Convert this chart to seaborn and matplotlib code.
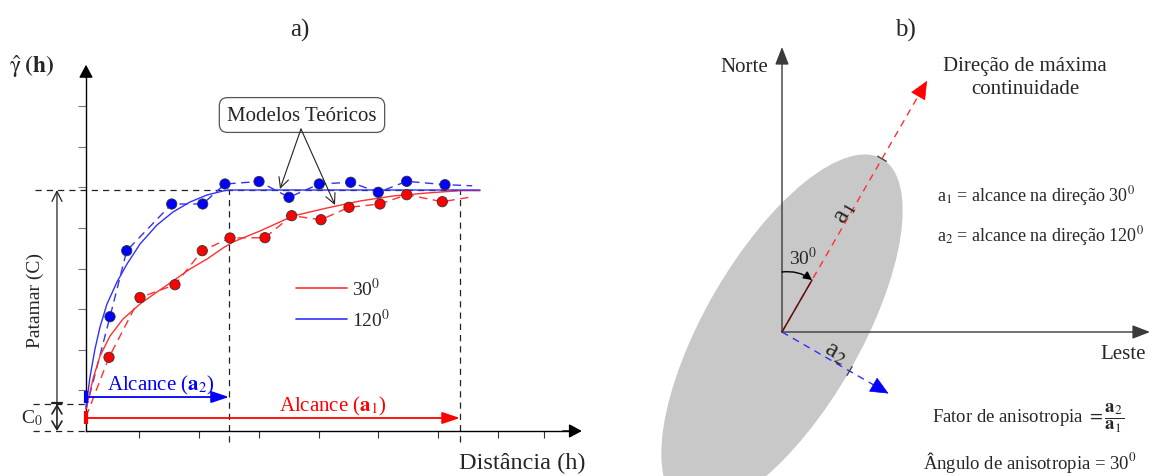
import matplotlib
matplotlib.use("Agg")
import numpy as np
import pandas as pd
import matplotlib.pyplot as plt
from matplotlib.patches import Ellipse, FancyArrowPatch
import seaborn as sns

sns.set_theme(style="white")
plt.rcParams["font.family"] = ["Liberation Serif", "DejaVu Serif"]
plt.rcParams["mathtext.fontset"] = "stix"

RED = "#ff0000"
BLUE = "#0000ff"
RED_MODEL = "#ff3030"
BLUE_MODEL = "#3030ff"

# ---------------- a) directional semivariograms ----------------
# experimental points (lag h, semivariance)
h_30 = [0.386, 0.906, 1.493, 1.951, 2.416, 3.003, 3.451, 3.943, 4.413, 4.933, 5.381, 5.978]
g_30 = [1.815, 3.288, 3.603, 4.441, 4.754, 4.761, 5.303, 5.204, 5.510, 5.591, 5.820, 5.648]
h_120 = [0.403, 0.683, 1.438, 1.958, 2.332, 2.903, 3.406, 3.914, 4.441, 4.904, 5.381, 6.023]
g_120 = [2.815, 4.441, 5.591, 5.591, 6.084, 6.145, 5.756, 6.084, 6.126, 5.879, 6.150, 6.067]

# dashed trace through the experimental points (start and tail included)
trace_h_30 = [0.0] + h_30 + [6.49]
trace_g_30 = [0.35] + g_30 + [5.77]
trace_h_120 = [0.0] + h_120 + [6.48]
trace_g_120 = [0.54] + g_120 + [6.04]

# fitted theoretical models
model_h_30 = [0.0, 0.117, 0.235, 0.403, 0.621, 0.906, 1.191, 1.460, 1.745, 2.030,
              2.299, 2.466, 2.919, 3.473, 4.044, 4.597, 5.151, 5.721, 6.275, 6.611]
model_g_30 = [0.542, 1.281, 1.847, 2.340, 2.759, 3.128, 3.424, 3.695, 3.990, 4.236,
              4.507, 4.655, 4.926, 5.296, 5.493, 5.665, 5.788, 5.862, 5.920, 5.920]
model_h_120 = [0.0, 0.067, 0.151, 0.235, 0.352, 0.520, 0.688, 0.906, 1.191, 1.460,
               1.745, 2.030, 2.299, 2.399, 6.611]
model_g_120 = [0.591, 1.330, 2.020, 2.562, 3.128, 3.670, 4.113, 4.606, 5.074, 5.394,
               5.640, 5.813, 5.911, 5.936, 5.936]

sill = 5.936
nugget = 0.665
range_30 = 6.275
range_120 = 2.399

x_ticks = [0.889, 1.896, 2.903, 3.909, 4.899, 5.906, 6.913, 7.685]
y_ticks = [1, 2, 3, 4, 5, 6, 7, 8]

# ---------------- b) anisotropy ellipse ----------------
azimuth_max = 30      # direction of maximum continuity, degrees from north
azimuth_min = 120
a1_len = 200
a2_len = 78

W, H = 1157, 477
fig = plt.figure(figsize=(W / 100, H / 100), dpi=100)

# ======================= panel a =======================
axL = fig.add_axes([0, 0, 600 / W, 1])
axL.set_xlim(-86 / 59.6, (600 - 86) / 59.6)
axL.set_ylim((432 - 477) / 40.6, 432 / 40.6)
axL.set_facecolor("none")
for s in ("top", "right"):
    axL.spines[s].set_visible(False)
for s in ("left", "bottom"):
    axL.spines[s].set_position(("data", 0))
    axL.spines[s].set_color("black")
    axL.spines[s].set_linewidth(1.0)
axL.spines["left"].set_bounds(0, 8.9)
axL.spines["bottom"].set_bounds(0, 8.2)
axL.set_xticks(x_ticks)
axL.set_yticks(y_ticks)
axL.set_xticklabels([])
axL.set_yticklabels([])
axL.tick_params(axis="x", bottom=True, direction="out", length=5, width=0.8, color="#333333")
axL.tick_params(axis="y", left=True, direction="out", length=6, width=0.8, color="#777777")

head = dict(arrowstyle="-|>,head_length=0.65,head_width=0.35", color="black", lw=1.0,
            shrinkA=0, shrinkB=0, mutation_scale=12)
# axis arrowheads
axL.annotate("", xy=(0, 9.02), xytext=(0, 8.7), arrowprops=head)
axL.annotate("", xy=(8.32, 0), xytext=(8.0, 0), arrowprops=head)

# reference dashed lines (sill, nugget, ranges)
dash_k = dict(color="#222222", lw=0.9, linestyle=(0, (5, 4)), zorder=1)
axL.plot([-0.856, range_30], [sill, sill], **dash_k)
axL.plot([-0.889, 0], [nugget, nugget], **dash_k)
axL.plot([-0.889, 0], [0, 0], **dash_k)
axL.plot([range_120, range_120], [-0.27, sill], **dash_k)
axL.plot([range_30, range_30], [-0.27, sill], **dash_k)

# dashed traces through experimental points
sns.lineplot(x=trace_h_30, y=trace_g_30, sort=False, estimator=None, color=RED_MODEL,
             lw=1.0, linestyle=(0, (6, 4)), ax=axL, zorder=2)
sns.lineplot(x=trace_h_120, y=trace_g_120, sort=False, estimator=None, color=BLUE_MODEL,
             lw=1.0, linestyle=(0, (6, 4)), ax=axL, zorder=2)

# theoretical models
sns.lineplot(x=model_h_30, y=model_g_30, sort=False, estimator=None, color=RED_MODEL,
             lw=1.0, ax=axL, zorder=3)
sns.lineplot(x=model_h_120, y=model_g_120, sort=False, estimator=None, color=BLUE_MODEL,
             lw=1.0, ax=axL, zorder=3)

# experimental points
exp = pd.DataFrame({
    "h": h_30 + h_120,
    "gamma": g_30 + g_120,
    "dir": ["30"] * len(h_30) + ["120"] * len(h_120),
})
sns.scatterplot(data=exp, x="h", y="gamma", hue="dir", palette={"30": RED, "120": BLUE},
                s=55, edgecolor="#333333", linewidth=0.6, legend=False, ax=axL, zorder=4)
axL.set_xlabel("")
axL.set_ylabel("")

# sill (C) and nugget (C0) arrows
xa = -0.487
axL.annotate("", xy=(xa, sill), xytext=(xa, nugget + 0.03),
             arrowprops=dict(arrowstyle="->,head_length=0.6,head_width=0.3", color="#222222",
                             lw=0.9, shrinkA=0, shrinkB=0))
axL.plot([xa - 0.09, xa + 0.09], [nugget + 0.03, nugget + 0.03], color="#222222", lw=1.6)
axL.annotate("", xy=(xa, 0.0), xytext=(xa, nugget),
             arrowprops=dict(arrowstyle="<->,head_length=0.5,head_width=0.3", color="#222222",
                             lw=1.2, shrinkA=0, shrinkB=0))
axL.text(-0.856, 3.25, "Patamar (C)", rotation=90, ha="center", va="center", fontsize=14)
axL.text(-0.9, 0.34, "C$_0$", ha="center", va="center", fontsize=14)

# range arrows
axL.plot([0, 0], [0.69, 0.985], color=BLUE, lw=3, solid_capstyle="butt", zorder=5)
axL.annotate("", xy=(range_120, 0.837), xytext=(0, 0.837),
             arrowprops=dict(arrowstyle="-|>,head_length=0.9,head_width=0.3", color=BLUE,
                             lw=1.3, shrinkA=0, shrinkB=0))
axL.text(1.258, 1.14, r"Alcance ($\mathbf{a}_2$)", color=BLUE, ha="center", va="center",
         fontsize=15)
axL.plot([0, 0], [0.172, 0.493], color=RED, lw=3, solid_capstyle="butt", zorder=5)
axL.annotate("", xy=(range_30, 0.32), xytext=(0, 0.32),
             arrowprops=dict(arrowstyle="-|>,head_length=0.9,head_width=0.3", color=RED,
                             lw=1.3, shrinkA=0, shrinkB=0))
axL.text(4.144, 0.62, r"Alcance ($\mathbf{a}_1$)", color=RED, ha="center", va="center",
         fontsize=15)

# legend
axL.plot([3.523, 4.379], [3.522, 3.522], color=RED_MODEL, lw=1.2)
axL.plot([3.523, 4.379], [2.759, 2.759], color=BLUE_MODEL, lw=1.2)
axL.text(4.46, 3.522, "30$^0$", ha="left", va="center", fontsize=14)
axL.text(4.46, 2.759, "120$^0$", ha="left", va="center", fontsize=14)

# callout for the theoretical models
axL.text(3.624, 7.783, "Modelos Teóricos", ha="center", va="center", fontsize=15,
         bbox=dict(boxstyle="round,pad=0.38,rounding_size=0.4", fc="white", ec="#555555", lw=0.9))
for tip in [(3.255, 5.961), (4.178, 5.567)]:
    axL.annotate("", xy=tip, xytext=(3.607, 7.438),
                 arrowprops=dict(arrowstyle="->,head_length=0.6,head_width=0.3", color="#222222",
                                 lw=0.8, shrinkA=0, shrinkB=0), zorder=6)

# y label: estimated semivariance
base_y = (432 - 73) / 40.6
axL.text(-1.30, base_y, r"$\hat{\mathrm{\gamma}}\;\mathbf{(h)}$", ha="left", va="baseline",
         fontsize=17)
axL.text(7.32, -0.764, "Distância (h)", ha="center", va="center", fontsize=17.5)
axL.text(3.59, 9.9, "a)", ha="center", va="center", fontsize=18)

# ======================= panel b =======================
axR = fig.add_axes([600 / W, 0, 557 / W, 1])
axR.set_xlim(-182, 375)
axR.set_ylim(-144, 333)
axR.axis("off")


def unit(az):
    r = np.deg2rad(az)
    return np.array([np.sin(r), np.cos(r)])


u1 = unit(azimuth_max)
u2 = unit(azimuth_min)

ell = Ellipse((0, 0), width=2 * a1_len, height=2 * a2_len, angle=90 - azimuth_max,
              facecolor="#c8c8c8", edgecolor="none", zorder=0)
axR.add_patch(ell)

# north and east axes
axis_head = dict(arrowstyle="-|>,head_length=0.9,head_width=0.35", color="#3a3a3a",
                 lw=1.0, shrinkA=0, shrinkB=0)
axR.annotate("", xy=(0, 285), xytext=(0, 0), arrowprops=axis_head, zorder=2)
axR.annotate("", xy=(368, 0), xytext=(0, 0), arrowprops=axis_head, zorder=2)

# direction of maximum continuity (red) and perpendicular (blue)
tip1 = u1 * 290
tip2 = u2 * 123
axR.plot([0, tip1[0] - u1[0] * 8], [0, tip1[1] - u1[1] * 8], color="#ff3030", lw=1.0,
         linestyle=(0, (5, 4)), zorder=3)
axR.plot([0, tip2[0] - u2[0] * 8], [0, tip2[1] - u2[1] * 8], color="#3030ff", lw=1.0,
         linestyle=(0, (5, 4)), zorder=3)
for tip, u, c in [(tip1, u1, "#ff0000"), (tip2, u2, "#0000ff")]:
    axR.annotate("", xy=tuple(tip), xytext=tuple(tip - u * 10),
                 arrowprops=dict(arrowstyle="-|>,head_length=1.0,head_width=0.45", color=c,
                                 lw=0.5, shrinkA=0, shrinkB=0), zorder=4)
seg = u1 * 60
axR.plot([0, seg[0]], [0, seg[1]], color="#5a1010", lw=1.1, zorder=4)

# range marks on the ellipse boundary
for L, u, p in [(a1_len, u1, u2), (a2_len, u2, u1)]:
    c = u * L
    axR.plot([c[0] - p[0] * 5, c[0] + p[0] * 5], [c[1] - p[1] * 5, c[1] + p[1] * 5],
             color="#444444", lw=1.0, zorder=4)

# anisotropy angle arc
arc = FancyArrowPatch(tuple(unit(0) * 60), tuple(u1 * 60),
                      connectionstyle="arc3,rad=-0.2",
                      arrowstyle="-|>,head_length=5,head_width=2.5", color="black", lw=1.0,
                      shrinkA=0, shrinkB=0, zorder=5)
axR.add_patch(arc)
axR.text(21, 75, "30$^0$", ha="center", va="center", fontsize=14)

axR.text(63, 120, "a$_1$", rotation=90 - azimuth_max, ha="center", va="center", fontsize=19)
axR.text(53, -20, "a$_2$", rotation=90 - azimuth_min, ha="center", va="center", fontsize=19)

axR.text(-38, 266, "Norte", ha="center", va="center", fontsize=15)
axR.text(341, -22, "Leste", ha="center", va="center", fontsize=15)
axR.text(243, 255, "Direção de máxima\ncontinuidade", ha="center", va="center",
         fontsize=15, linespacing=1.25)
axR.text(155, 137, "a$_1$ = alcance na direção 30$^0$", ha="left", va="center", fontsize=13)
axR.text(155, 97, "a$_2$ = alcance na direção 120$^0$", ha="left", va="center", fontsize=13)
axR.text(150, -85, r"Fator de anisotropia $= \dfrac{\mathbf{a}_2}{\mathbf{a}_1}$",
         ha="left", va="center", fontsize=13.5)
axR.text(141, -130, "Ângulo de anisotropia = 30$^0$", ha="left", va="center", fontsize=13.5)
axR.text(123, 303, "b)", ha="center", va="center", fontsize=18)

fig.savefig("out.png", dpi=100)
